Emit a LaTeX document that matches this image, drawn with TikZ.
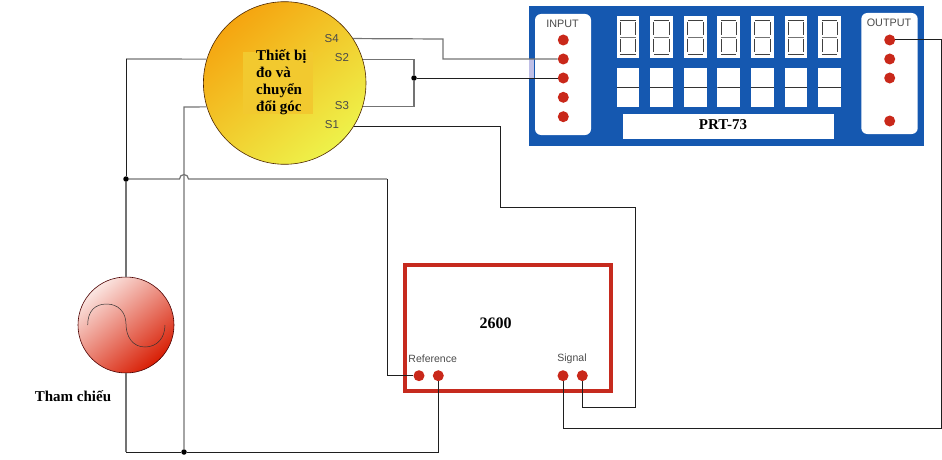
\documentclass[tikz,border=0pt]{standalone}
\usepackage{fontspec}
\setmainfont{Liberation Serif}
\newfontfamily\panelfont{Liberation Sans}
\definecolor{panelblue}{HTML}{1558B0}
\definecolor{padred}{HTML}{C9281A}
\definecolor{framered}{HTML}{C62A1E}
\definecolor{patchyellow}{HTML}{F2C92F}
\definecolor{labelgrey}{HTML}{4A4A4A}
\definecolor{meterorange}{HTML}{F5A510}
\definecolor{meteryellow}{HTML}{EEF24A}
\definecolor{sourcepale}{HTML}{FBE6E2}
\definecolor{sourcered}{HTML}{D81E04}
\tikzset{
  wire/.style={draw=black!55, line width=1.2pt},
  darkwire/.style={draw=black!88, line width=1pt},
  pad/.style={circle, fill=padred, minimum size=11pt, inner sep=0pt},
  junction/.style={circle, fill=black, minimum size=5.5pt, inner sep=0pt},
  plate/.style={rectangle, rounded corners=6pt, fill=white, inner sep=0pt},
  boldlabel/.style={font=\fontsize{15}{17}\selectfont\bfseries, inner sep=0pt},
  sanslabel/.style={font=\fontsize{11.5}{13}\selectfont\panelfont, text=labelgrey, inner sep=0pt},
  digitbox/.style={rectangle, fill=white, minimum width=22.7pt, minimum height=42.3pt, inner sep=0pt,
    path picture={
      \coordinate (dc) at (path picture bounding box.center);
      \draw[black!75, line width=.7pt] ([shift={(-7.6pt,16.8pt)}]dc) -- ([shift={(7.6pt,16.8pt)}]dc);
      \draw[black!75, line width=.7pt] ([shift={(-7.6pt,-17pt)}]dc) -- ([shift={(7.6pt,-17pt)}]dc);
      \draw[black!55, line width=1pt] ([shift={(-7.6pt,0pt)}]dc) -- ([shift={(7.6pt,0pt)}]dc);
      \draw[black!75, line width=.7pt] ([shift={(-7.6pt,15pt)}]dc) -- ([shift={(-7.6pt,2pt)}]dc);
      \draw[black!75, line width=.7pt] ([shift={(7.6pt,15pt)}]dc) -- ([shift={(7.6pt,2pt)}]dc);
      \draw[black!75, line width=.7pt] ([shift={(-7.6pt,-2pt)}]dc) -- ([shift={(-7.6pt,-15pt)}]dc);
      \draw[black!75, line width=.7pt] ([shift={(7.6pt,-2pt)}]dc) -- ([shift={(7.6pt,-15pt)}]dc);
    }},
  keybox/.style={rectangle, fill=white, minimum width=22.7pt, minimum height=38.4pt, inner sep=0pt,
    path picture={
      \draw[black!80, line width=.7pt] (path picture bounding box.west) -- (path picture bounding box.east);
    }}
}
\begin{document}
\begin{tikzpicture}[x=1pt,y=-1pt]
\useasboundingbox (0,0) rectangle (942,460);
% PRT-73 panel
\node[rectangle, fill=panelblue, minimum width=394.7pt, minimum height=140pt, inner sep=0pt] (panel) at (726.3,75.7){};
\node[rectangle, fill=blue!60!black!25!white, minimum width=5pt, minimum height=19.6pt, inner sep=0pt] (gap) at (531.8,68.5){};
\node[plate, minimum width=56pt, minimum height=121pt] (inplate) at (563,74.5){};
\node[plate, minimum width=56.4pt, minimum height=121pt] (outplate) at (889.5,73.5){};
\node[sanslabel, font=\fontsize{10.8}{13}\selectfont\panelfont] (intext) at (562.5,24){INPUT};
\node[sanslabel, font=\fontsize{10.8}{13}\selectfont\panelfont] (outtext) at (889,23){OUTPUT};
\node[pad] (in1) at (563.3,40){};
\node[pad] (in2) at (563.3,59){};
\node[pad] (in3) at (563.3,78){};
\node[pad] (in4) at (563.3,97.3){};
\node[pad] (in5) at (563.3,116.7){};
\node[pad] (out1) at (889.7,40){};
\node[pad] (out2) at (889.7,59){};
\node[pad] (out3) at (889.7,78){};
\node[pad] (out4) at (889.7,121){};
\node[digitbox] (dig1) at (627.9,37.2){};
\node[digitbox] (dig2) at (661.4,37.2){};
\node[digitbox] (dig3) at (695.4,37.2){};
\node[digitbox] (dig4) at (728.7,37.2){};
\node[digitbox] (dig5) at (762.4,37.2){};
\node[digitbox] (dig6) at (796,37.2){};
\node[digitbox] (dig7) at (829.5,37.2){};
\node[keybox] (key1) at (627.9,87.5){};
\node[keybox] (key2) at (661.4,87.5){};
\node[keybox] (key3) at (695.4,87.5){};
\node[keybox] (key4) at (728.7,87.5){};
\node[keybox] (key5) at (762.4,87.5){};
\node[keybox] (key6) at (796,87.5){};
\node[keybox] (key7) at (829.5,87.5){};
\node[rectangle, fill=white, minimum width=211.3pt, minimum height=25pt, inner sep=0pt] (name) at (728.3,126.5){};
\node[boldlabel] (nametext) at (723,125){PRT-73};
% angle transducer
\node[circle, draw=black!70!orange, line width=.6pt, left color=meterorange, right color=meteryellow, shading angle=40, minimum size=162.6pt, inner sep=0pt] (meter) at (284.7,83){};
\node[rectangle, fill=patchyellow, minimum width=69.7pt, minimum height=62.3pt, inner sep=0pt] (patch) at (277.8,82.8){};
\node[boldlabel, align=left, anchor=north west] (metertext) at (256,49.5){Thiết bị\\đo và\\chuyển\\đổi góc};
\node[sanslabel] (s4text) at (331.7,38.5){S4};
\node[sanslabel] (s2text) at (342,58){S2};
\node[sanslabel] (s3text) at (342,106){S3};
\node[sanslabel] (s1text) at (332,125){S1};
% reference source
\node[circle, draw=black!70!red, line width=.6pt, left color=sourcepale, right color=sourcered, shading angle=40, minimum size=96pt, inner sep=0pt] (source) at (126,325){};
\draw[black!80, line width=.5pt] (87.7,325) .. controls (87.7,311) and (95,304) .. (106.7,304) .. controls (118,304) and (126,312) .. (126,324) .. controls (126,337) and (133,347) .. (145,347) .. controls (157,347) and (165,338) .. (165,325);
\node[boldlabel] (sourcetext) at (73,396){Tham chiếu};
% 2600 unit
\node[rectangle, draw=framered, line width=4pt, minimum width=205.5pt, minimum height=126pt, inner sep=0pt] (unit) at (507.8,327.5){};
\node[boldlabel, font=\fontsize{16}{17}\selectfont\bfseries] (unittext) at (495.7,323){2600};
\node[sanslabel, font=\fontsize{10.5}{13}\selectfont\panelfont] (reftext) at (432.7,358.3){Reference};
\node[sanslabel, font=\fontsize{10.5}{13}\selectfont\panelfont] (sigtext) at (572,358.3){Signal};
\node[pad] (ref1) at (419,375.7){};
\node[pad] (ref2) at (438.3,375.7){};
\node[pad] (sig1) at (563,375.7){};
\node[pad] (sig2) at (582.3,375.7){};
% junctions and bends
\node[junction] (jtop) at (414,78){};
\node[junction] (jleft) at (126,179){};
\node[junction] (jbottom) at (184,452){};
\coordinate (s4bend) at (443,39);
\coordinate (s1bend) at (500,207);
\coordinate (s1far) at (635,407);
\coordinate (outfar) at (941,428);
\coordinate (leftup) at (126,59);
\coordinate (leftlow) at (126,452);
\coordinate (hopa) at (179.5,179);
\coordinate (refbend) at (387,179);
\coordinate (lowleft) at (184,107);
% wires
\draw[wire] (meter.33) -- (s4bend) |- (in2);
\draw[wire] (meter.17) -| (jtop);
\draw[wire] (meter.-17) -| (jtop);
\draw[darkwire] (jtop) -- (in3);
\draw[darkwire] (meter.-32) -| (s1bend) -| (s1far) -| (sig2);
\draw[darkwire] (out1) -| (outfar) -| (sig1);
\draw[wire] (meter.163) -- (leftup);
\draw[darkwire] (leftup) -- (jleft);
\draw[wire] (jleft) -- (source.north);
\draw[wire] (jleft) -- (hopa) arc[start angle=180, end angle=0, radius=4.5pt] -- (refbend);
\draw[darkwire] (refbend) |- (ref1);
\draw[wire] (meter.197) -- (lowleft) -- (jbottom);
\draw[wire] (source.south) -- (leftlow);
\draw[darkwire] (leftlow) -- (jbottom) -| (ref2);
\end{tikzpicture}
\end{document}
